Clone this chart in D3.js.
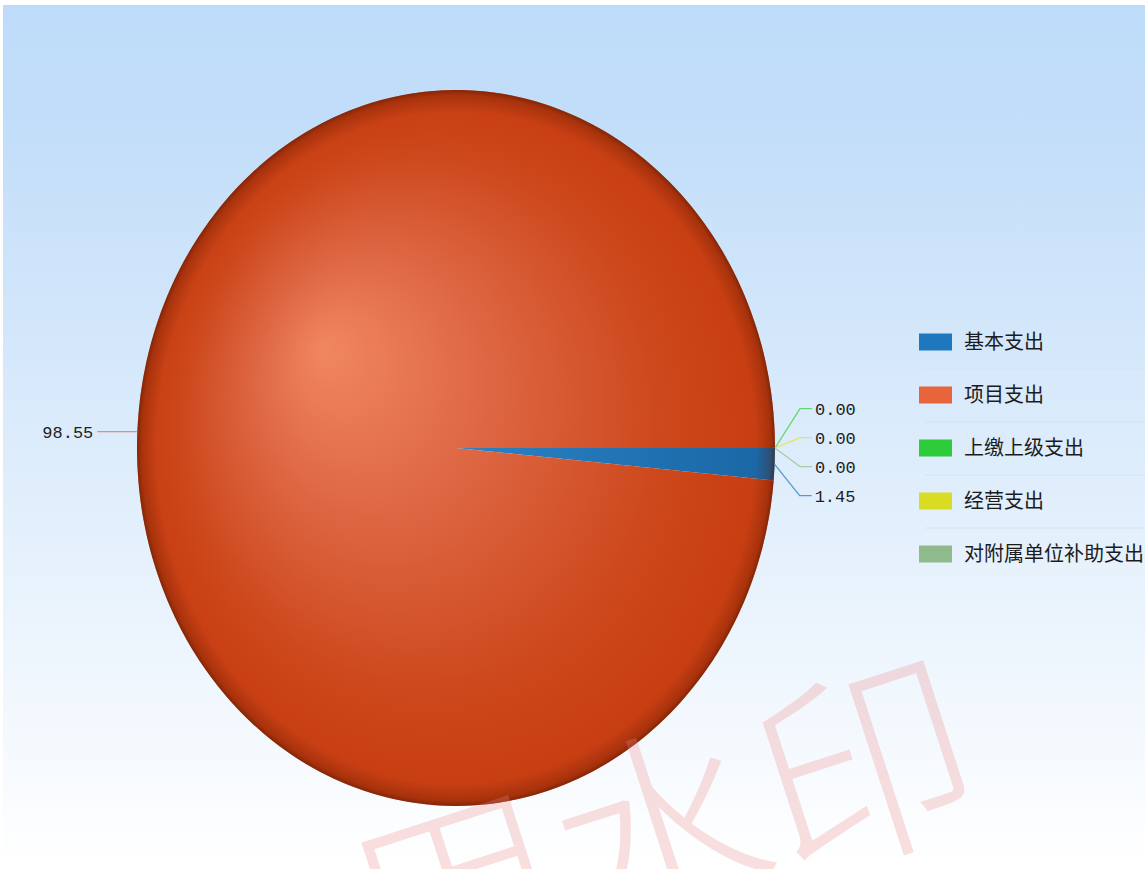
<html lang="zh">
<head>
<meta charset="utf-8">
<title>支出构成</title>
<script src="https://cdn.jsdelivr.net/npm/d3@7/dist/d3.min.js"></script>
<style>
  body { margin: 0; background: #fff; }
  .legend text { font-family: "Noto Sans CJK SC", sans-serif; font-size: 20px; fill: #1c1c1c; }
  .val { font-family: "Liberation Mono", "DejaVu Sans Mono", monospace; font-size: 17px; fill: #222; }
</style>
</head>
<body>
<script>
// data
var categories = ["基本支出", "项目支出", "上缴上级支出", "经营支出", "对附属单位补助支出"];
var values = [1.45, 98.55, 0.00, 0.00, 0.00];
var colors = ["#1f78bd", "#e8643c", "#2ecc3a", "#d9dc22", "#8fba8c"];
var watermark = "用水印";

var w = 1145, h = 869;
var cx = 456, cy = 448, rx = 319, ry = 358;
var sx = rx / ry;

var svg = d3.select("body").append("svg")
  .attr("width", w).attr("height", h);

var defs = svg.append("defs");

//background gradient
var bg = defs.append("linearGradient").attr("id", "bg")
  .attr("x1", 0).attr("y1", 0).attr("x2", 0).attr("y2", 1);
bg.append("stop").attr("offset", 0).attr("stop-color", "#bedcfa");
bg.append("stop").attr("offset", 0.12).attr("stop-color", "#c1ddf9");
bg.append("stop").attr("offset", 1).attr("stop-color", "#ffffff");

svg.append("rect").attr("width", w).attr("height", h).attr("fill", "#fff");
svg.append("rect").attr("x", 3).attr("y", 5).attr("width", w - 3).attr("height", h - 5)
  .attr("fill", "url(#bg)");

// sphere-ish shading for the slices (in local, unscaled coords)
function shade(id, c0, c1, c2, c3) {
  var g = defs.append("radialGradient").attr("id", id)
    .attr("gradientUnits", "userSpaceOnUse")
    .attr("cx", 0).attr("cy", 0).attr("r", ry)
    .attr("fx", -150).attr("fy", -100);
  g.append("stop").attr("offset", 0).attr("stop-color", c0);
  g.append("stop").attr("offset", 0.4).attr("stop-color", c1);
  g.append("stop").attr("offset", 0.75).attr("stop-color", c2);
  g.append("stop").attr("offset", 1).attr("stop-color", c3);
}
shade("g0", "#3a8fd0", "#2a7fc0", "#1f70b0", "#1b66a4");
shade("g1", "#f08760", "#dc6440", "#cd481c", "#c63c10");

var rim = defs.append("radialGradient").attr("id", "rim")
  .attr("cx", 0.5).attr("cy", 0.5).attr("r", 0.5);
rim.append("stop").attr("offset", 0.94).attr("stop-color", "#5a1800").attr("stop-opacity", 0);
rim.append("stop").attr("offset", 0.985).attr("stop-color", "#5a1800").attr("stop-opacity", 0.28);
rim.append("stop").attr("offset", 1).attr("stop-color", "#4a1400").attr("stop-opacity", 0.55);

var pie = d3.pie().sort(null).value(function(d) { return d; })
  .startAngle(Math.PI / 2).endAngle(Math.PI / 2 + 2 * Math.PI);
var arcs = pie(values);

var arc = d3.arc().innerRadius(0).outerRadius(ry);

var pieG = svg.append("g")
  .attr("transform", "translate(" + cx + "," + cy + ") scale(" + sx + ",1)");

pieG.selectAll("path")
  .data(arcs)
  .enter()
  .append("path")
  .attr("d", arc)
  .attr("fill", function(d, i) { return i < 2 ? "url(#g" + i + ")" : colors[i]; });

pieG.append("circle").attr("r", ry).attr("fill", "url(#rim)");

//labels
function edge(a) {
  return [cx + rx * Math.sin(a), cy - ry * Math.cos(a)];
}
var fmt = d3.format(".2f");
var labels = arcs.map(function(d, i) {
  var a = (d.startAngle + d.endAngle) / 2;
  var p = edge(a);
  return { i: i, p: p, y: p[1], right: Math.sin(a) > 0 };
});

// spread the right side labels so they do not overlap
var rightL = labels.filter(function(l) { return l.right; })
  .sort(function(a, b) { return a.y - b.y || a.i - b.i; });
var gap = 29;
var mean = d3.mean(rightL, function(l) { return l.y; });
rightL.forEach(function(l, k) {
  l.ly = mean + (k - (rightL.length - 1) / 2) * gap;
});
labels.filter(function(l) { return !l.right; }).forEach(function(l) { l.ly = l.y; });

var lab = svg.append("g");
labels.forEach(function(l) {
  var lineCol = d3.interpolateRgb(colors[l.i], "#ffffff")(0.25);
  if (l.right) {
    lab.append("polyline")
      .attr("points", [l.p, [l.p[0] + 25, l.ly], [l.p[0] + 37, l.ly]].join(" "))
      .attr("fill", "none").attr("stroke", lineCol).attr("stroke-width", 1.3);
    lab.append("text").attr("class", "val")
      .attr("x", l.p[0] + 40).attr("y", l.ly).attr("dy", "0.35em")
      .text(fmt(values[l.i]));
  } else {
    lab.append("line")
      .attr("x1", l.p[0]).attr("y1", l.ly).attr("x2", l.p[0] - 40).attr("y2", l.ly)
      .attr("stroke", lineCol).attr("stroke-width", 1.3);
    lab.append("text").attr("class", "val")
      .attr("x", l.p[0] - 44).attr("y", l.ly).attr("dy", "0.35em")
      .attr("text-anchor", "end")
      .text(fmt(values[l.i]));
  }
});

//legend
var ly = d3.scalePoint().domain(d3.range(categories.length)).range([342, 554]);
var legend = svg.append("g").attr("class", "legend");
legend.selectAll("rect")
  .data(categories)
  .enter()
  .append("rect")
  .attr("x", 919).attr("y", function(d, i) { return ly(i) - 8.5; })
  .attr("width", 33).attr("height", 17)
  .attr("fill", function(d, i) { return colors[i]; });
legend.selectAll("text")
  .data(categories)
  .enter()
  .append("text")
  .attr("x", 964).attr("y", function(d, i) { return ly(i); })
  .attr("dy", "0.36em")
  .text(function(d) { return d; });
legend.selectAll("line")
  .data(categories.slice(1))
  .enter()
  .append("line")
  .attr("x1", 925).attr("x2", 1145)
  .attr("y1", function(d, i) { return (ly(i) + ly(i + 1)) / 2 + 0.5; })
  .attr("y2", function(d, i) { return (ly(i) + ly(i + 1)) / 2 + 0.5; })
  .attr("stroke", "#d6e3ee").attr("stroke-width", 1);

//watermark (cut by the bottom edge, as in the original)
svg.append("text")
  .attr("transform", "translate(662,836) rotate(-18)")
  .attr("text-anchor", "middle")
  .attr("dy", "0.36em")
  .attr("font-family", "Noto Sans CJK SC, sans-serif")
  .attr("font-weight", 300)
  .attr("font-size", 215)
  .attr("fill", "rgb(238,140,140)")
  .attr("fill-opacity", 0.28)
  .text(watermark);
</script>
</body>
</html>
